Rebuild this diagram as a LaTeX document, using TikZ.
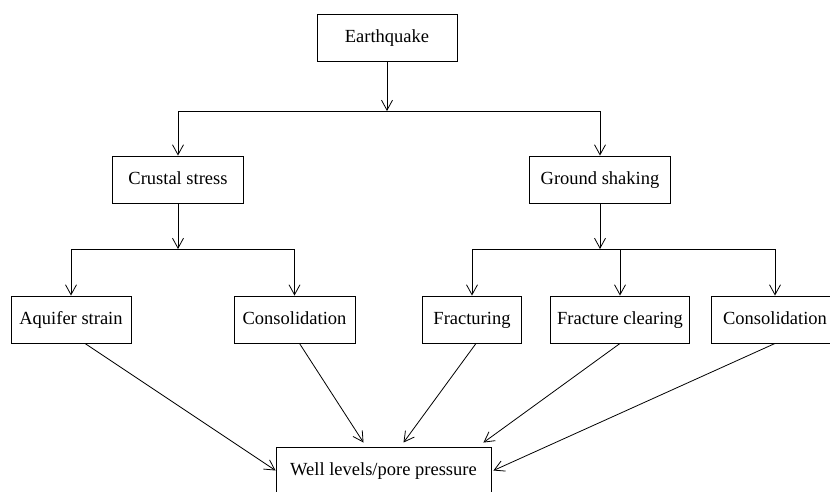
\documentclass[tikz,border=0pt]{standalone}
\usepackage{fontspec}
\setmainfont{Liberation Serif}
\usetikzlibrary{arrows.meta}
\tikzset{
  box/.style={draw, line width=.9pt, minimum height=47pt, inner sep=0pt,
    text height=13pt, text depth=4pt,
    font=\fontsize{18.5}{22}\selectfont},
  arr/.style={-{Straight Barb[length=10pt,width=11pt]}},
}
\begin{document}
\begin{tikzpicture}[x=1pt, y=-1pt, line width=.8pt]
        \useasboundingbox (0, 0) rectangle (830, 491);
        % nodes
        \node[box, minimum width=140pt] (quake) at (387, 37.5) {Earthquake};
        \node[box, minimum width=131pt] (crust) at (178, 179.5) {Crustal stress};
        \node[box, minimum width=141pt] (shake) at (600, 179.5) {Ground shaking};
        \node[box, minimum width=120pt] (strain) at (71, 319.5) {Aquifer strain};
        \node[box, minimum width=121pt] (consA) at (294.5, 319.5) {Consolidation};
        \node[box, minimum width=99pt] (fract) at (472, 319.5) {Fracturing};
        \node[box, minimum width=139pt] (clear) at (620, 319.5) {Fracture clearing};
        \node[box, minimum width=128pt] (consB) at (775, 319.5) {Consolidation};
        \node[box, minimum width=215pt] (well) at (383.5, 470.5) {Well levels/pore pressure};
        % junctions
        \coordinate (jtop) at (quake.south |- 0, 111);
        \coordinate (jleft) at (crust.south |- 0, 249);
        \coordinate (jright) at (shake.south |- 0, 249);
        % tree lines
        \draw[arr] (quake) -- (jtop);
        \draw (crust |- jtop) -- (shake |- jtop);
        \draw[arr] (crust |- jtop) -- (crust);
        \draw[arr] (shake |- jtop) -- (shake);
        \draw[arr] (crust) -- (jleft);
        \draw (strain |- jleft) -- (consA |- jleft);
        \draw[arr] (strain |- jleft) -- (strain);
        \draw[arr] (consA |- jleft) -- (consA);
        \draw[arr] (shake) -- (jright);
        \draw (fract |- jright) -- (consB |- jright);
        \draw[arr] (fract |- jright) -- (fract);
        \draw[arr] (clear |- jright) -- (clear);
        \draw[arr] (consB |- jright) -- (consB);
        % into the well
        \draw[arr] ([xshift=14pt]strain.south) -- (well.west);
        \draw[arr] ([xshift=5pt]consA.south) -- ([xshift=-20pt, yshift=4pt]well.north);
        \draw[arr] ([xshift=4pt]fract.south) -- ([xshift=20pt, yshift=4pt]well.north);
        \draw[arr] (clear.south) -- ([xshift=-8pt, yshift=4pt]well.north east);
        \draw[arr] (consB.south) -- ([xshift=2pt]well.east);
      \end{tikzpicture}
\end{document}
